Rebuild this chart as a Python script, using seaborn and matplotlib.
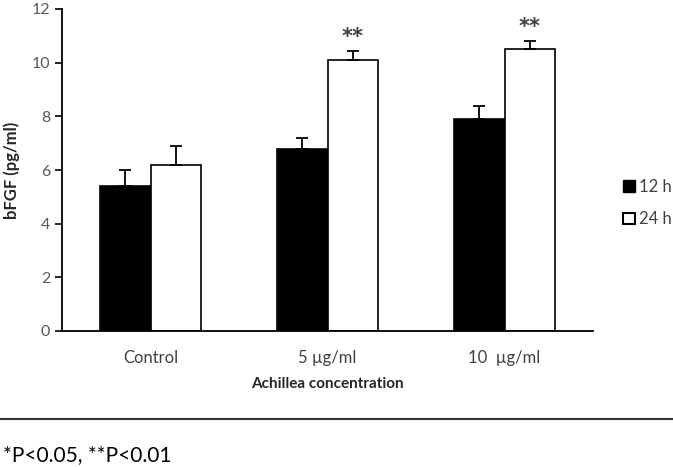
import matplotlib
matplotlib.use("Agg")
import matplotlib.pyplot as plt
from matplotlib.patches import Patch
import numpy as np
import pandas as pd
import seaborn as sns

# values
categories = ["Control", "5 \u00b5g/ml", "10  \u00b5g/ml"]
times = ["12 h", "24 h"]
mean_12h = [5.4, 6.8, 7.9]
mean_24h = [6.2, 10.1, 10.5]
sem_12h = [0.6, 0.38, 0.48]
sem_24h = [0.7, 0.35, 0.32]
stars_24h = ["", "**", "**"]

df = pd.DataFrame({
    "conc": categories * 2,
    "time": [times[0]] * 3 + [times[1]] * 3,
    "value": mean_12h + mean_24h,
})

sns.set_style("white")
plt.rcParams["font.family"] = ["Lato", "DejaVu Sans"]

fig = plt.figure(figsize=(6.73, 4.67), dpi=100)
ax = fig.add_axes([62 / 673, 1 - 331 / 467, 531 / 673, 322 / 467])

sns.barplot(data=df, x="conc", y="value", hue="time", order=categories,
            hue_order=times, palette=["black", "white"], width=0.57,
            edgecolor="black", linewidth=1.2, ax=ax, legend=False)

# upper-only error bars, one per bar
for i, (means, errs) in enumerate([(mean_12h, sem_12h), (mean_24h, sem_24h)]):
    bars = ax.containers[i]
    xs = [b.get_x() + b.get_width() / 2 for b in bars]
    ax.errorbar(xs, means, yerr=[np.zeros(3), errs], fmt="none",
                ecolor="black", elinewidth=1.3, capsize=4, capthick=1.3)
    if i == 1:
        for x, m, e, s in zip(xs, means, errs, stars_24h):
            if s:
                ax.text(x, m + e + 0.15, s, ha="center", va="bottom",
                        fontsize=15, color="#404040", fontweight="bold",
                        family="DejaVu Sans")

ax.set_ylim(0, 12)
ax.set_yticks(range(0, 13, 2))
ax.set_xlim(-0.5, 2.5)
ax.set_xlabel("Achillea concentration", fontsize=11, fontweight="bold",
              labelpad=8)
ax.set_ylabel("bFGF (pg/ml)", fontsize=12, fontweight="bold", labelpad=8)
ax.tick_params(axis="y", left=True, length=5, width=1.2, labelsize=11.5,
               labelcolor="#595959", color="black")
ax.tick_params(axis="x", bottom=False, labelsize=12, labelcolor="#404040",
               pad=10)
for side in ["top", "right"]:
    ax.spines[side].set_visible(False)
for side in ["left", "bottom"]:
    ax.spines[side].set_color("black")
    ax.spines[side].set_linewidth(1.3)

handles = [Patch(facecolor="black", edgecolor="black", label=times[0]),
           Patch(facecolor="white", edgecolor="black", linewidth=1.5,
                 label=times[1])]
fig.legend(handles=handles, loc="center left",
           bbox_to_anchor=(608 / 673, 1 - 203 / 467),
           frameon=False, fontsize=12, handlelength=0.7, handleheight=0.7,
           handletextpad=0.25, labelspacing=1.0, labelcolor="#404040")

# separator line and footnote
fig.add_artist(plt.Line2D([0, 1], [1 - 419 / 467] * 2, color="#333333",
                          linewidth=1.5, transform=fig.transFigure))
fig.text(3 / 673, 1 - 455 / 467, "*P<0.05, **P<0.01", fontsize=15,
         va="center", ha="left", color="black")

fig.savefig("out.png", dpi=100)
